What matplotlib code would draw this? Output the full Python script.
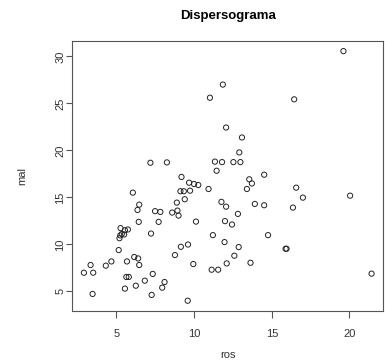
import matplotlib
matplotlib.use("Agg")
import matplotlib.pyplot as plt

# ros / mal values
ros = [2.91, 3.34, 3.51, 3.47, 4.32, 4.68, 5.15, 5.20, 5.25, 5.35,
       5.50, 5.27, 5.55, 5.74, 6.06, 6.47, 6.36, 6.44, 6.15, 6.40,
       5.68, 6.47, 5.64, 5.80, 5.55, 6.25, 6.83, 7.34, 7.27, 7.23,
       7.49, 7.83, 7.72, 8.10, 7.95, 8.59, 8.89, 8.93, 9.00, 8.77,
       9.15, 9.61, 9.19, 9.12, 9.34, 9.40, 9.68, 9.74, 10.00, 10.27,
       10.93, 10.12, 9.95, 9.59, 7.19, 8.25, 11.02, 19.61, 11.85, 16.44,
       12.06, 13.08, 12.91, 11.34, 11.80, 12.53, 12.98, 11.45, 13.55, 14.51,
       13.72, 13.40, 16.57, 17.00, 20.04, 11.76, 12.06, 13.91, 14.51, 16.36,
       12.82, 11.99, 12.44, 11.21, 14.76, 11.96, 12.87, 15.89, 15.95, 12.59,
       12.10, 13.63, 11.13, 11.55, 21.42]
mal = [6.98, 7.80, 6.98, 4.72, 7.73, 8.18, 9.39, 10.65, 10.95, 11.10,
       11.05, 11.72, 11.50, 11.58, 15.50, 14.22, 13.66, 12.39, 8.65, 8.50,
       8.18, 7.80, 6.53, 6.53, 5.29, 5.60, 6.13, 6.85, 4.62, 11.15,
       13.53, 13.45, 12.39, 5.99, 5.39, 13.38, 14.44, 13.59, 13.06, 8.86,
       9.74, 9.98, 17.17, 15.65, 15.65, 14.80, 16.56, 15.71, 16.42, 16.31,
       15.89, 12.42, 7.90, 4.00, 18.68, 18.72, 25.60, 30.56, 27.00, 25.43,
       22.43, 21.37, 19.78, 18.80, 18.75, 18.75, 18.75, 17.83, 16.92, 17.41,
       16.48, 15.89, 16.03, 14.97, 15.18, 14.52, 14.01, 14.30, 14.16, 13.91,
       13.24, 12.47, 12.11, 10.98, 10.98, 10.24, 9.71, 9.53, 9.53, 8.79,
       7.97, 8.04, 7.30, 7.30, 6.88]

xticks = [5, 10, 15, 20]
yticks = [5, 10, 15, 20, 25, 30]

plt.rcParams['font.family'] = ['Liberation Sans', 'DejaVu Sans']

fig = plt.figure(figsize=(3.85, 3.64), dpi=100)
ax = fig.add_axes([0.188, 0.1464, 0.807, 0.7406])

ax.scatter(ros, mal, s=14, facecolors='none', edgecolors='#222222', linewidths=0.7)

# R style 4% padding
xr = max(ros) - min(ros)
yr = max(mal) - min(mal)
ax.set_xlim(min(ros) - 0.04 * xr, max(ros) + 0.04 * xr)
ax.set_ylim(min(mal) - 0.04 * yr, max(mal) + 0.04 * yr)

ax.set_xticks(xticks)
ax.set_yticks(yticks)
ax.tick_params(axis='both', direction='out', width=0.8, color='#555555',
               labelsize=8, labelcolor='#333333')
ax.tick_params(axis='x', length=5, pad=8)
ax.tick_params(axis='y', length=4.5, pad=0.5)
for lab in ax.get_yticklabels():
    lab.set_rotation(90)
    lab.set_va('center')

for sp in ax.spines.values():
    sp.set_color('#555555')
    sp.set_linewidth(0.8)

ax.set_xlabel('ros', fontsize=8, color='#333333', labelpad=8)
ax.set_ylabel('mal', fontsize=8, color='#333333', labelpad=20)
fig.text(0.592, 0.955, 'Dispersograma', ha='center', va='center',
         fontsize=9.5, fontweight='bold', color='black')

fig.savefig('out.png', dpi=100)
